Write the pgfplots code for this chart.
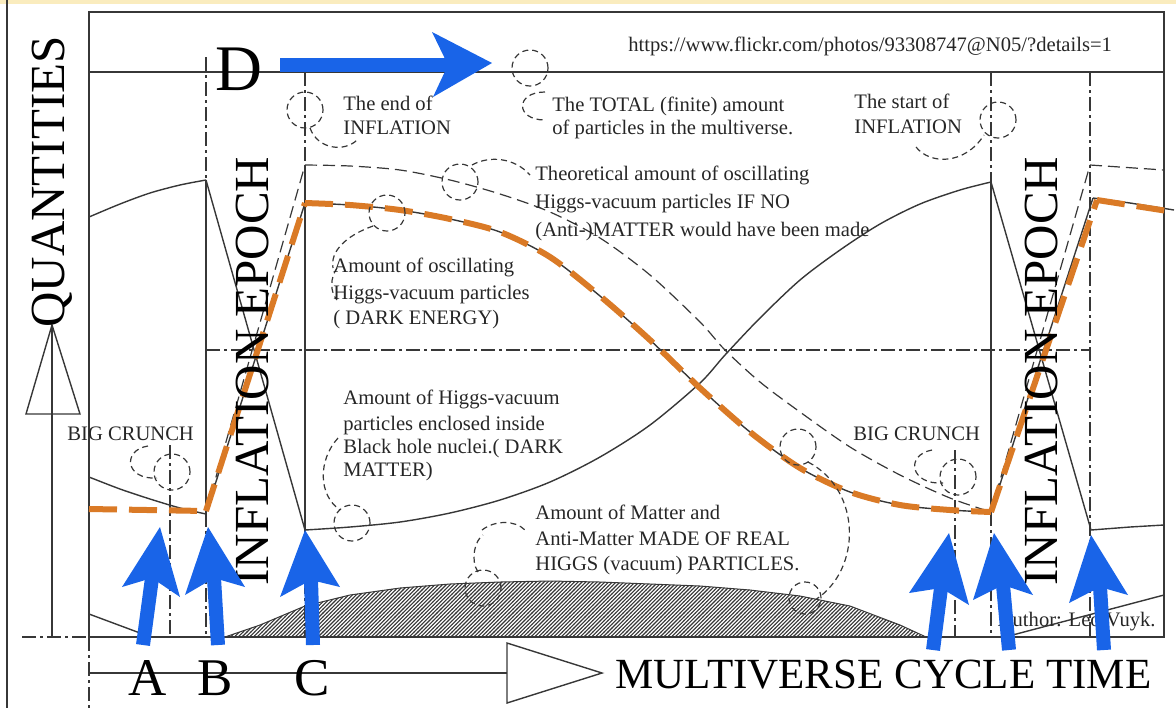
\documentclass[border=0pt]{standalone}
\usepackage{pgfplots}
\pgfplotsset{compat=1.18}
\usepackage{fontspec}
\setmainfont{Liberation Serif}
\usetikzlibrary{patterns}
\definecolor{orng}{RGB}{218,122,38}
\definecolor{blu}{RGB}{25,100,232}
\definecolor{ink}{RGB}{55,55,55}
\newcommand\ann{\fontsize{10.3pt}{12pt}\selectfont}
% denser hatching than the stock north east lines
\pgfdeclarepatternformonly{dense ne}{\pgfqpoint{-0.5pt}{-0.5pt}}{\pgfqpoint{2.5pt}{2.5pt}}{\pgfqpoint{1.9pt}{1.9pt}}{%
  \pgfsetlinewidth{0.55pt}
  \pgfpathmoveto{\pgfqpoint{-0.1pt}{-0.1pt}}
  \pgfpathlineto{\pgfqpoint{2pt}{2pt}}
  \pgfusepath{stroke}}

\begin{document}
\begin{tikzpicture}[
  ln/.style={draw=ink, line width=0.7pt},
  dd/.style={draw=ink, line width=0.6pt, dash pattern=on 7pt off 2pt on 1.5pt off 2pt},
  dsh/.style={draw=ink, line width=0.6pt, dash pattern=on 6pt off 3pt},
  dc/.style={draw=ink, line width=0.6pt, dash pattern=on 3pt off 2pt},
  tx/.style={inner sep=0pt, text=black!85, font=\ann},
]
\begin{axis}[width=588pt, height=354pt, scale only axis,
  xmin=0, xmax=1176, ymin=0, ymax=708, y dir=reverse,
  axis lines=none, clip=false]

% frame
\fill[color={rgb,255:red,250;green,236;blue,190}] (0,0) rectangle (1176,4);
\draw[ln] (7,0) -- (7,708);
\draw[ln] (89,637) -- (89,12) -- (1164,12) -- (1164,637) -- (89,637);
\draw[ln] (89,72) -- (1164,72);
\draw[dd] (89,637) -- (89,708);
\draw[dd] (22,637) -- (89,637);
% quantities arrow
\draw[ln] (26,414) -- (52,325) -- (80,414) -- cycle;
\draw[ln] (52,325) -- (52,637);
% time arrow
\draw[ln] (89,673) -- (507,673);
\draw[ln] (507,643) -- (602,673) -- (507,703) -- cycle;

% epoch lines
\draw[dd] (206,57) -- (206,180); \draw[ln] (206,180) -- (206,513); \draw[dd] (206,513) -- (206,637);
\draw[dd] (305,72) -- (305,165); \draw[ln] (305,165) -- (305,530); \draw[dd] (305,530) -- (305,637);
\draw[dd] (991,72) -- (991,182); \draw[ln] (991,182) -- (991,512); \draw[dd] (991,512) -- (991,637);
\draw[dd] (1090,72) -- (1090,637);
\draw[dd] (170,445) -- (170,637);
\draw[dd] (955,450) -- (955,637);
\draw[dd] (206,350) -- (1090,350);

% matter (hatched)
\addplot[draw=ink, line width=0.5pt, pattern=dense ne, pattern color=ink] coordinates {
 (225,637) (260,625) (305,606) (350,595) (400,588) (450,584) (500,582) (550,581)
 (600,582) (650,584) (700,586) (750,590) (800,596) (850,606) (900,625) (926,637)};
\addplot[ln] coordinates {(89,614) (140,633) (150,637)};
\addplot[ln] coordinates {(1005,637) (1164,595)};

% black hole curve
\addplot[ln, smooth] coordinates {(89,217) (120,204) (150,193) (180,185) (206,180)};
\addplot[ln] coordinates {(206,180) (305,530)};
\addplot[ln, smooth] coordinates {(305,530) (350,527) (400,522) (450,513) (500,500) (550,482)
 (600,457) (650,425) (700,383) (725,355) (760,318) (800,280) (840,250) (880,224)
 (920,204) (960,190) (991,182)};
\addplot[ln] coordinates {(991,182) (1091,530)};
\addplot[ln] coordinates {(1091,530) (1130,527) (1164,525)};

% theoretical (dashed)
\addplot[dsh] coordinates {(206,512) (305,165)};
\addplot[dsh, smooth] coordinates {(305,165) (350,166) (400,170) (450,180) (500,194) (550,212)
 (600,238) (650,275) (700,322) (725,350) (760,382) (800,412) (850,447) (900,475)
 (950,498) (991,512)};
\addplot[dsh] coordinates {(991,512) (1090,165)};
\addplot[dsh] coordinates {(1090,165) (1164,170)};

% dark energy (solid)
\addplot[ln, smooth] coordinates {(89,477) (120,489) (150,499) (180,508) (206,514)};
\addplot[ln] coordinates {(206,513) (305,203)};
\addplot[ln, smooth] coordinates {(305,203) (350,205) (400,210) (450,219) (500,232) (550,257)
 (600,296) (650,340) (700,388) (750,432) (800,468) (850,492) (900,505) (950,510) (991,512)};
\addplot[ln] coordinates {(991,512) (1093,198)};
\addplot[ln] coordinates {(1093,198) (1130,203) (1174,210)};

% orange dashed
\addplot[draw=orng, line width=3pt, dash pattern=on 14pt off 6pt] coordinates {(89,509) (206,511)};
\addplot[draw=orng, line width=3pt, dash pattern=on 14pt off 6pt] coordinates {(206,511) (305,203)};
\addplot[draw=orng, line width=3pt, dash pattern=on 14pt off 6pt, smooth] coordinates {
 (305,203) (350,205) (400,210) (450,219) (500,232) (550,257) (600,296) (650,340) (700,388)
 (750,432) (800,468) (850,492) (900,505) (950,510) (991,512)};
\addplot[draw=orng, line width=3pt, dash pattern=on 14pt off 6pt] coordinates {(991,512) (1097,200)};
\addplot[draw=orng, line width=3pt, dash pattern=on 14pt off 6pt] coordinates {(1097,200) (1174,212)};

% dashed circles and call-out arcs
\draw[dc] (305,110) circle[radius=9pt];
\draw[dc] (310,128) .. controls (318,150) and (345,152) .. (357,140);
\draw[dc] (530,68) circle[radius=9pt];
\draw[dc] (545,92) .. controls (515,92) and (515,120) .. (545,120);
\draw[dc] (460,182) circle[radius=9pt];
\draw[dc] (472,165) .. controls (490,155) and (515,158) .. (530,175);
\draw[dc] (387,213) circle[radius=9pt];
\draw[dc] (373,226) .. controls (345,236) and (330,252) .. (333,268);
\draw[dc] (337,268) .. controls (330,278) and (330,292) .. (337,300);
\draw[dc] (172,472) circle[radius=9pt];
\draw[dc] (148,446) .. controls (122,450) and (125,480) .. (157,478);
\draw[dc] (958,477) circle[radius=9pt];
\draw[dc] (932,450) .. controls (905,455) and (910,485) .. (943,483);
\draw[dc] (998,120) circle[radius=9pt];
\draw[dc] (916,147) .. controls (930,165) and (965,165) .. (984,135);
\draw[dc] (352,523) circle[radius=9pt];
\draw[dc] (338,438) .. controls (318,460) and (318,495) .. (340,510);
\draw[dc] (483,588) circle[radius=9pt];
\draw[dc] (478,572) .. controls (470,560) and (475,540) .. (483,535);
\draw[dc] (482,530) .. controls (495,520) and (515,520) .. (525,530);
\draw[dc] (798,447) circle[radius=9pt];
\draw[dc] (808,462) .. controls (862,490) and (862,570) .. (815,600);
\draw[dc] (805,598) circle[radius=8pt];

% texts
\node[tx, anchor=base west] at (628,51) {https://www.flickr.com/photos/93308747@N05/?details=1};
\node[tx, anchor=base west] at (343,110) {The end of};
\node[tx, anchor=base west] at (343,134) {INFLATION};
\node[tx, anchor=base west] at (552,111) {The TOTAL (finite) amount};
\node[tx, anchor=base west] at (552,134) {of particles in the multiverse.};
\node[tx, anchor=base west] at (854,108) {The start of};
\node[tx, anchor=base west] at (854,133) {INFLATION};
\node[tx, anchor=base west] at (535,180) {Theoretical amount of oscillating};
\node[tx, anchor=base west] at (535,208) {Higgs-vacuum particles IF NO};
\node[tx, anchor=base west] at (535,236) {(Anti-)MATTER would have been made};
\node[tx, anchor=base west] at (333,272) {Amount of oscillating};
\node[tx, anchor=base west] at (333,299) {Higgs-vacuum particles};
\node[tx, anchor=base west] at (333,324) {( DARK ENERGY)};
\node[tx, anchor=base west] at (343,404) {Amount of Higgs-vacuum};
\node[tx, anchor=base west] at (343,430) {particles enclosed inside};
\node[tx, anchor=base west] at (343,453) {Black hole nuclei.( DARK};
\node[tx, anchor=base west] at (343,476) {MATTER)};
\node[tx, anchor=base west] at (535,519) {Amount of Matter and};
\node[tx, anchor=base west] at (535,545) {Anti-Matter MADE OF REAL};
\node[tx, anchor=base west] at (535,570) {HIGGS (vacuum) PARTICLES.};
\node[tx, anchor=base west] at (67,440) {BIG CRUNCH};
\node[tx, anchor=base west] at (853,440) {BIG CRUNCH};
\node[tx, anchor=base east] at (1156,626) {Author: Leo Vuyk.};

\node[inner sep=0pt, rotate=90, font=\fontsize{24.5pt}{26pt}\selectfont] at (52,182) {QUANTITIES};
\node[inner sep=0pt, rotate=90, font=\fontsize{24.5pt}{26pt}\selectfont] at (253,371) {INFLATION EPOCH};
\node[inner sep=0pt, rotate=90, font=\fontsize{24.5pt}{26pt}\selectfont] at (1041,371) {INFLATION EPOCH};
\node[inner sep=0pt, anchor=base west, font=\fontsize{21.5pt}{23pt}\selectfont] at (615,688) {MULTIVERSE CYCLE TIME};
\node[inner sep=0pt, anchor=base west, font=\fontsize{32.5pt}{34pt}\selectfont] at (215,90) {D};
\node[inner sep=0pt, anchor=base, font=\fontsize{26.5pt}{28pt}\selectfont] at (148,695) {A};
\node[inner sep=0pt, anchor=base, font=\fontsize{26.5pt}{28pt}\selectfont] at (215,695) {B};
\node[inner sep=0pt, anchor=base, font=\fontsize{26.5pt}{28pt}\selectfont] at (312,695) {C};

% blue arrows
\draw[blu, line width=7pt] (280,65) -- (450,65);
\fill[blu] (432,32) -- (492,63) -- (433,97) -- (448,65) -- cycle;
\draw[blu, line width=7pt] (143,645) -- (152,578);
\fill[blu] (122,587) -- (160,527) -- (180,597) -- (152,578) -- cycle;
\draw[blu, line width=7pt] (218,645) -- (214,578);
\fill[blu] (185,595) -- (208,527) -- (245,587) -- (214,578) -- cycle;
\draw[blu, line width=7pt] (313,645) -- (311,580);
\fill[blu] (280,597) -- (305,530) -- (340,587) -- (311,580) -- cycle;
\draw[blu, line width=7pt] (933,650) -- (941,588);
\fill[blu] (909,593) -- (949,533) -- (969,605) -- (941,588) -- cycle;
\draw[blu, line width=7pt] (1009,650) -- (1003,585);
\fill[blu] (973,600) -- (994,533) -- (1033,595) -- (1003,585) -- cycle;
\draw[blu, line width=7pt] (1104,650) -- (1100,587);
\fill[blu] (1069,603) -- (1091,535) -- (1128,595) -- (1100,587) -- cycle;
\end{axis}
\pgfresetboundingbox
\useasboundingbox (current axis.south west) rectangle (current axis.north east);
\end{tikzpicture}
\end{document}
